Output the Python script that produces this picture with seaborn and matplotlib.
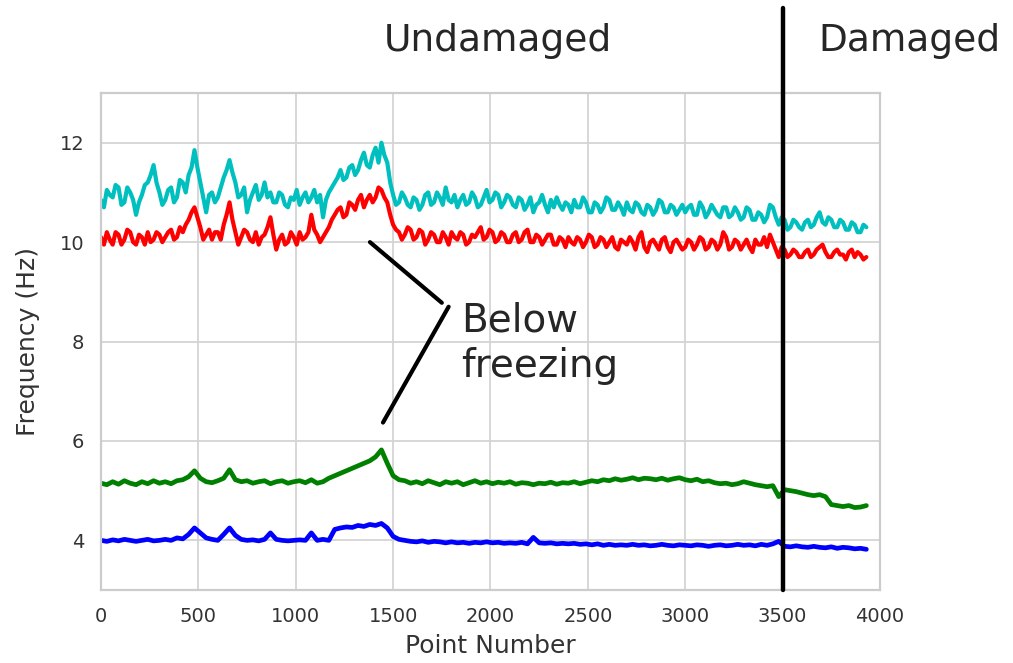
import numpy as np
import pandas as pd
import matplotlib
matplotlib.use("Agg")
import matplotlib.pyplot as plt
import seaborn as sns

# ---- data ----
# upper two modes: one value every 15 points
point_number_fine = list(range(0, 3931, 15))
# lower two modes: one value every 30 points
point_number = list(range(0, 3931, 30))

mode_cyan = [
    10.85, 10.7, 11.05, 10.95, 10.9, 11.15, 11.1, 10.75, 10.8, 11.1, 11.0, 10.85, 10.55, 10.8, 10.95, 11.15, 11.2, 11.35, 11.55, 11.2,
    11.0, 10.75, 10.85, 11.05, 11.1, 10.8, 10.9, 11.25, 11.2, 11.0, 11.35, 11.5, 11.85, 11.5, 11.2, 10.9, 10.6, 10.95, 11.0, 10.8,
    10.9, 11.1, 11.3, 11.45, 11.65, 11.4, 11.2, 10.9, 10.95, 11.1, 10.6, 10.85, 11.0, 11.15, 10.85, 10.95, 11.2, 10.9, 11.0, 10.8,
    10.8, 11.0, 10.95, 10.75, 10.7, 10.9, 10.85, 11.05, 10.75, 10.9, 11.0, 10.8, 10.9, 11.05, 10.8, 10.95, 10.5, 10.85, 11.0, 11.1,
    11.2, 11.3, 11.45, 11.25, 11.3, 11.5, 11.55, 11.35, 11.45, 11.65, 11.8, 11.55, 11.5, 11.75, 11.9, 11.6, 12.0, 11.75, 11.6, 11.2,
    10.95, 10.75, 10.8, 11.0, 10.9, 10.75, 10.7, 10.9, 10.85, 10.65, 10.75, 10.95, 11.0, 10.75, 10.8, 11.0, 10.9, 10.75, 11.1, 10.85,
    10.8, 10.95, 10.7, 10.85, 10.95, 10.75, 10.8, 11.0, 10.9, 10.7, 10.75, 10.9, 11.05, 10.8, 10.85, 11.0, 10.95, 10.7, 10.8, 10.95,
    10.9, 10.75, 10.7, 10.9, 10.85, 10.65, 10.75, 10.9, 10.6, 10.75, 10.8, 10.95, 10.75, 10.6, 10.85, 10.7, 10.9, 10.75, 10.65, 10.8,
    10.75, 10.6, 10.85, 10.7, 10.7, 10.9, 10.8, 10.6, 10.6, 10.8, 10.75, 10.6, 10.7, 10.9, 10.85, 10.65, 10.65, 10.8, 10.7, 10.55,
    10.8, 10.65, 10.6, 10.8, 10.75, 10.6, 10.55, 10.75, 10.7, 10.55, 10.65, 10.85, 10.8, 10.6, 10.6, 10.75, 10.7, 10.55, 10.65, 10.75,
    10.6, 10.7, 10.75, 10.55, 10.55, 10.8, 10.7, 10.5, 10.6, 10.75, 10.65, 10.55, 10.5, 10.7, 10.7, 10.5, 10.55, 10.7, 10.6, 10.45,
    10.5, 10.7, 10.65, 10.45, 10.45, 10.6, 10.55, 10.4, 10.5, 10.75, 10.7, 10.5, 10.35, 10.5, 10.45, 10.25, 10.3, 10.45, 10.4, 10.3,
    10.25, 10.4, 10.45, 10.3, 10.35, 10.5, 10.6, 10.4, 10.35, 10.5, 10.45, 10.3, 10.3, 10.45, 10.4, 10.25, 10.25, 10.4, 10.35, 10.2,
    10.2, 10.35, 10.3,
]

mode_red = [
    10.1, 9.95, 10.2, 10.05, 9.95, 10.2, 10.15, 9.95, 10.05, 10.25, 10.2, 10.0, 9.95, 10.15, 10.1, 9.95, 10.2, 10.0, 10.05, 10.2,
    10.15, 10.0, 10.1, 10.2, 10.25, 10.05, 10.1, 10.3, 10.2, 10.35, 10.45, 10.6, 10.7, 10.5, 10.3, 10.05, 10.15, 10.25, 10.05, 10.2,
    10.2, 10.05, 10.35, 10.55, 10.8, 10.45, 10.2, 9.95, 10.1, 10.25, 10.2, 10.05, 10.0, 10.2, 9.95, 10.1, 10.15, 10.3, 10.5, 10.15,
    9.85, 10.05, 10.15, 9.95, 10.0, 10.2, 10.1, 9.95, 10.2, 10.05, 10.1, 10.2, 10.55, 10.25, 10.15, 10.0, 10.1, 10.2, 10.3, 10.45,
    10.55, 10.65, 10.7, 10.5, 10.55, 10.8, 10.75, 10.65, 10.85, 10.95, 10.7, 10.85, 10.95, 10.8, 10.9, 11.1, 11.05, 10.9, 10.8, 10.55,
    10.35, 10.25, 10.2, 10.05, 10.15, 10.3, 10.25, 10.05, 10.1, 10.25, 10.2, 9.95, 10.05, 10.2, 10.15, 10.0, 10.0, 10.2, 10.1, 9.95,
    10.2, 10.1, 10.05, 10.2, 10.15, 9.95, 10.0, 10.15, 10.1, 10.2, 10.3, 10.05, 10.1, 10.25, 10.2, 10.0, 10.05, 10.2, 10.15, 10.0,
    10.0, 10.15, 10.2, 10.0, 10.05, 10.2, 10.25, 10.0, 10.0, 10.15, 10.1, 9.95, 10.05, 10.15, 10.15, 9.95, 9.95, 10.1, 10.05, 9.9,
    10.1, 10.0, 9.95, 10.1, 10.05, 9.9, 10.0, 10.15, 10.1, 9.9, 9.95, 10.1, 10.05, 9.9, 10.0, 10.1, 9.9, 9.85, 10.05, 10.0,
    9.95, 10.1, 10.0, 9.85, 10.1, 10.2, 9.9, 9.8, 10.0, 10.05, 9.95, 9.85, 10.05, 10.1, 9.9, 9.8, 10.0, 10.05, 9.95, 9.85,
    9.9, 10.05, 10.0, 9.85, 9.95, 10.1, 10.05, 9.85, 9.9, 10.05, 10.0, 9.85, 9.95, 10.2, 10.1, 9.85, 9.9, 10.05, 10.0, 9.85,
    9.95, 10.05, 9.9, 9.8, 10.05, 9.95, 9.95, 10.1, 9.9, 10.15, 10.0, 9.85, 9.7, 9.9, 9.85, 9.7, 9.75, 9.85, 9.8, 9.7,
    9.7, 9.8, 9.85, 9.7, 9.75, 9.85, 9.9, 9.95, 9.8, 9.7, 9.7, 9.8, 9.85, 9.75, 9.75, 9.65, 9.8, 9.85, 9.7, 9.8,
    9.75, 9.65, 9.7,
]

mode_green = [
    5.15, 5.12, 5.18, 5.13, 5.2, 5.15, 5.12, 5.18, 5.14, 5.2,
    5.15, 5.18, 5.14, 5.2, 5.22, 5.28, 5.4, 5.25, 5.18, 5.16,
    5.2, 5.25, 5.42, 5.22, 5.18, 5.2, 5.15, 5.18, 5.2, 5.14,
    5.18, 5.2, 5.15, 5.18, 5.2, 5.16, 5.22, 5.15, 5.18, 5.25,
    5.3, 5.35, 5.4, 5.45, 5.5, 5.55, 5.6, 5.68, 5.82, 5.55,
    5.3, 5.22, 5.2, 5.15, 5.18, 5.14, 5.2, 5.16, 5.12, 5.18,
    5.15, 5.18, 5.12, 5.16, 5.2, 5.15, 5.18, 5.14, 5.17, 5.15,
    5.18, 5.13, 5.16, 5.15, 5.12, 5.15, 5.14, 5.17, 5.13, 5.16,
    5.15, 5.18, 5.14, 5.17, 5.2, 5.18, 5.22, 5.2, 5.24, 5.21,
    5.23, 5.26, 5.22, 5.25, 5.24, 5.22, 5.25, 5.21, 5.24, 5.26,
    5.22, 5.2, 5.23, 5.18, 5.2, 5.16, 5.14, 5.15, 5.12, 5.14,
    5.18, 5.15, 5.12, 5.1, 5.08, 5.1, 4.88, 5.02, 5.0, 4.98,
    4.95, 4.92, 4.9, 4.92, 4.88, 4.72, 4.7, 4.68, 4.7, 4.66,
    4.67, 4.7,
]

mode_blue = [
    4.0, 3.98, 4.01, 3.99, 4.02, 4.0, 3.98, 4.0, 4.02, 3.99,
    4.0, 4.02, 4.0, 4.05, 4.03, 4.12, 4.25, 4.15, 4.05, 4.02,
    4.0, 4.12, 4.25, 4.1, 4.02, 4.0, 4.01, 3.99, 4.02, 4.15,
    4.02, 4.0, 3.99, 4.0, 4.01, 4.0, 4.15, 4.0, 4.02, 4.0,
    4.22, 4.25, 4.27, 4.26, 4.3, 4.28, 4.32, 4.3, 4.34, 4.25,
    4.08, 4.02, 4.0, 3.98, 3.97, 3.99, 3.96, 3.98, 3.97, 3.95,
    3.97, 3.95, 3.96, 3.94, 3.96, 3.95, 3.97, 3.95, 3.96, 3.94,
    3.95, 3.94, 3.96, 3.93, 4.06, 3.95, 3.94, 3.95, 3.93, 3.94,
    3.93, 3.94, 3.92, 3.93, 3.91, 3.93, 3.9, 3.92, 3.9, 3.91,
    3.9, 3.92, 3.9, 3.91, 3.89, 3.9, 3.92, 3.9, 3.89, 3.91,
    3.9, 3.89, 3.91, 3.9, 3.88, 3.9, 3.91, 3.89, 3.9, 3.92,
    3.9, 3.91, 3.89, 3.92, 3.9, 3.93, 3.98, 3.88, 3.87, 3.89,
    3.87, 3.86, 3.88, 3.86, 3.85, 3.87, 3.84, 3.86, 3.85, 3.83,
    3.84, 3.82,
]

damage_point = 3500
x_ticks = [0, 500, 1000, 1500, 2000, 2500, 3000, 3500, 4000]
y_ticks = [4, 6, 8, 10, 12]

series = [
    ("mode_cyan", point_number_fine, mode_cyan, "#00bfbf", 3.0),
    ("mode_red", point_number_fine, mode_red, "#ff0000", 3.0),
    ("mode_green", point_number, mode_green, "#008000", 3.4),
    ("mode_blue", point_number, mode_blue, "#0000ff", 3.4),
]

sns.set_theme(style="whitegrid")
plt.rcParams["font.family"] = ["DejaVu Sans"]

fig = plt.figure(figsize=(10.13, 6.63), dpi=100)
ax = fig.add_axes([0.0997, 0.110, 0.769, 0.7497])

for name, xs, ys, col, lw in series:
    d = pd.DataFrame({"Point Number": xs, "Frequency": ys})
    sns.lineplot(data=d, x="Point Number", y="Frequency", color=col,
                 linewidth=lw, ax=ax, estimator=None, legend=False)

ax.set_xlim(0, 4000)
ax.set_ylim(3, 13)
ax.set_xticks(x_ticks)
ax.set_yticks(y_ticks)
ax.tick_params(axis="both", labelsize=14, colors="#333333", pad=6)
ax.set_xlabel("Point Number", fontsize=18, color="#333333", labelpad=6)
ax.set_ylabel("Frequency (Hz)", fontsize=18, color="#333333", labelpad=14)
for s in ax.spines.values():
    s.set_linewidth(1.6)
    s.set_color("#cccccc")
ax.grid(color="#d4d4d4", linewidth=1.3)

# damage boundary line extending above the axes
ax.axvline(damage_point, ymin=0, ymax=1.171, color="black", linewidth=3.2,
           clip_on=False, zorder=5)

fig.text(0.491, 0.938, "Undamaged", ha="center", va="center", fontsize=27)
fig.text(0.898, 0.938, "Damaged", ha="center", va="center", fontsize=27)

# annotation
ax.annotate("", xy=(1381, 10.0), xytext=(1750, 8.78),
            arrowprops=dict(arrowstyle="-", lw=3, color="black",
                            shrinkA=0, shrinkB=0))
ax.annotate("", xy=(1448, 6.37), xytext=(1785, 8.7),
            arrowprops=dict(arrowstyle="-", lw=3, color="black",
                            shrinkA=0, shrinkB=0))
ax.text(1850, 8.8, "Below\nfreezing", fontsize=28, ha="left", va="top",
        linespacing=1.25)

fig.savefig("out.png", dpi=100)
